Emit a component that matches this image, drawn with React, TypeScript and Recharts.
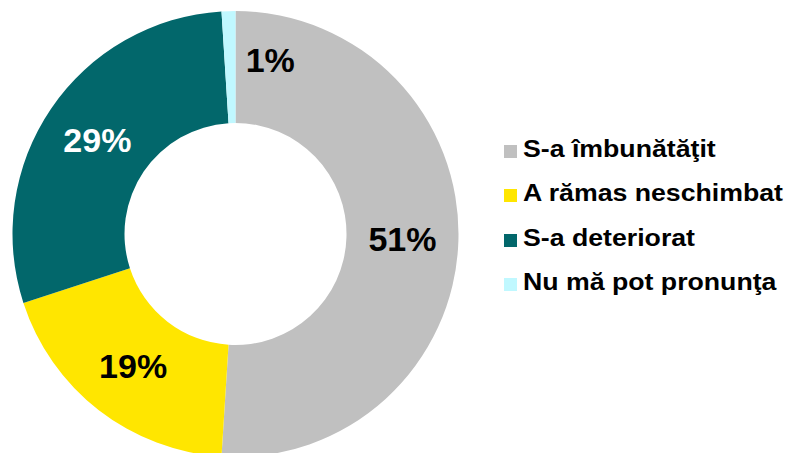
import { PieChart, Pie, Cell, Legend } from 'recharts';

const categories = ['S-a îmbunătăţit', 'A rămas neschimbat', 'S-a deteriorat', 'Nu mă pot pronunţa'];
const shares = [51, 19, 29, 1];
const colors = ['#C0C0C0', '#FFE600', '#02676B', '#C0F8FF'];
const labelColors = ['#000000', '#000000', '#FFFFFF', '#000000'];

const data = categories.map((name, i) => ({ name, value: shares[i] }));

const RADIAN = Math.PI / 180;
const FONT = '"Liberation Sans", Arial, sans-serif';

function SliceLabel(props: any) {
  const { cx, cy, midAngle, innerRadius, outerRadius, index, value, percent } = props;
  const r = (innerRadius + outerRadius) / 2;
  let x = cx + r * Math.cos(-midAngle * RADIAN);
  let y = cy + r * Math.sin(-midAngle * RADIAN);
  // tiny slice: label sits beside it, on the grey ring
  if (percent < 0.03) {
    x += 40;
    y -= 7;
  }
  return (
    <text
      x={x}
      y={y}
      fill={labelColors[index]}
      textAnchor="middle"
      dominantBaseline="central"
      style={{ fontFamily: FONT, fontWeight: 700, fontSize: 34 }}
    >
      {`${value}%`}
    </text>
  );
}

function LegendBox() {
  return (
    <div style={{ fontFamily: FONT }}>
      {categories.map((name, i) => (
        <div key={name} style={{ display: 'flex', alignItems: 'center', height: 44.5 }}>
          <span style={{ width: 13, height: 13, background: colors[i], display: 'inline-block' }} />
          <span
            style={{
              marginLeft: 6,
              fontSize: 23,
              fontWeight: 700,
              lineHeight: '23px',
              color: '#000',
              whiteSpace: 'nowrap',
              display: 'inline-block',
              transform: 'scaleX(1.16) translateY(-2px)',
              transformOrigin: 'left center',
            }}
          >
            {name}
          </span>
        </div>
      ))}
    </div>
  );
}

export default function App() {
  return (
    <div style={{ width: 790, height: 453, background: '#fff', overflow: 'hidden' }}>
      <style>{'body{margin:0}'}</style>
      <PieChart width={790} height={453} margin={{ top: 0, right: 0, bottom: 0, left: 0 }}>
        <Pie
          data={data}
          dataKey="value"
          nameKey="name"
          cx={235.5}
          cy={234}
          innerRadius={111}
          outerRadius={223}
          startAngle={90}
          endAngle={-270}
          stroke="none"
          label={SliceLabel}
          labelLine={false}
          isAnimationActive={false}
        >
          {data.map((d, i) => (
            <Cell key={d.name} fill={colors[i]} />
          ))}
        </Pie>
        <Legend
          content={<LegendBox />}
          wrapperStyle={{ position: 'absolute', left: 504, top: 129, width: 286, height: 'auto' }}
        />
      </PieChart>
    </div>
  );
}
